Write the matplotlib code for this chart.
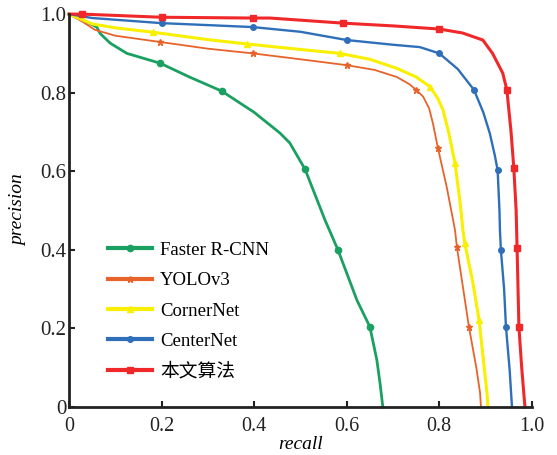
import matplotlib
matplotlib.use("Agg")
import matplotlib.pyplot as plt

# Data (recall, precision)
frcnn_r = [0, 0.03, 0.06, 0.067, 0.089, 0.125, 0.197, 0.26, 0.33, 0.4, 0.456, 0.477, 0.51, 0.553, 0.581, 0.622, 0.65, 0.665, 0.672, 0.678]
frcnn_p = [1.0, 0.985, 0.967, 0.951, 0.926, 0.90, 0.875, 0.84, 0.804, 0.75, 0.697, 0.672, 0.605, 0.476, 0.40, 0.272, 0.204, 0.12, 0.06, 0.0]
frcnn_mk = [0.197, 0.33, 0.51, 0.581, 0.65]

yolo_r = [0, 0.03, 0.056, 0.1, 0.197, 0.3, 0.397, 0.5, 0.6, 0.66, 0.708, 0.735, 0.75, 0.765, 0.778, 0.786, 0.797, 0.816, 0.834, 0.838, 0.864, 0.88, 0.888, 0.89]
yolo_p = [1.0, 0.98, 0.96, 0.945, 0.929, 0.912, 0.90, 0.885, 0.87, 0.858, 0.84, 0.822, 0.807, 0.79, 0.76, 0.723, 0.659, 0.56, 0.45, 0.407, 0.204, 0.10, 0.036, 0.0]
yolo_mk = [0.197, 0.397, 0.6, 0.75, 0.797, 0.838, 0.864]

corner_r = [0, 0.05, 0.1, 0.181, 0.3, 0.384, 0.5, 0.585, 0.65, 0.708, 0.75, 0.78, 0.797, 0.808, 0.82, 0.834, 0.845, 0.851, 0.855, 0.872, 0.886, 0.897, 0.903, 0.905]
corner_p = [1.0, 0.975, 0.965, 0.954, 0.935, 0.924, 0.91, 0.90, 0.885, 0.862, 0.84, 0.815, 0.785, 0.756, 0.70, 0.62, 0.52, 0.45, 0.417, 0.32, 0.221, 0.10, 0.036, 0.0]
corner_mk = [0.181, 0.384, 0.585, 0.78, 0.834, 0.855, 0.886]

center_r = [0, 0.05, 0.2, 0.3, 0.397, 0.5, 0.6, 0.7, 0.758, 0.8, 0.84, 0.875, 0.895, 0.909, 0.92, 0.926, 0.93, 0.931, 0.933, 0.94, 0.944, 0.952, 0.957]
center_p = [1.0, 0.99, 0.977, 0.972, 0.967, 0.955, 0.934, 0.922, 0.916, 0.90, 0.86, 0.807, 0.75, 0.697, 0.64, 0.603, 0.50, 0.45, 0.40, 0.30, 0.204, 0.094, 0.0]
center_mk = [0.2, 0.397, 0.6, 0.8, 0.875, 0.926, 0.933, 0.944]

ours_r = [0, 0.028, 0.2, 0.397, 0.434, 0.592, 0.7, 0.8, 0.85, 0.894, 0.915, 0.937, 0.946, 0.955, 0.961, 0.966, 0.968, 0.972, 0.978, 0.985]
ours_p = [1.0, 1.0, 0.992, 0.99, 0.99, 0.977, 0.97, 0.962, 0.952, 0.934, 0.90, 0.85, 0.807, 0.70, 0.608, 0.50, 0.405, 0.204, 0.10, 0.0]
ours_mk = [0.028, 0.2, 0.397, 0.592, 0.8, 0.946, 0.961, 0.968, 0.972]

labels = ["Faster R-CNN", "YOLOv3", "CornerNet", "CenterNet", "本文算法"]
xticks = [0, 0.2, 0.4, 0.6, 0.8, 1.0]
xticklabels = ["0", "0.2", "0.4", "0.6", "0.8", "1.0"]
yticks = [0, 0.2, 0.4, 0.6, 0.8, 1.0]
yticklabels = ["0", "0.2", "0.4", "0.6", "0.8", "1.0"]

plt.rcParams['font.family'] = ['Liberation Serif', 'Noto Sans CJK SC', 'DejaVu Sans']

fig = plt.figure(figsize=(5.57, 4.55), dpi=100)
ax = fig.add_axes([0.1239, 0.1055, 0.831, 0.8635])

series = [
    (frcnn_r, frcnn_p, frcnn_mk, "#1aa060", "o", 4.5, 2.0),
    (yolo_r, yolo_p, yolo_mk, "#e8632a", "*", 5, 1.3),
    (corner_r, corner_p, corner_mk, "#f8f000", "^", 4, 2.2),
    (center_r, center_p, center_mk, "#2f6fba", "o", 4, 1.7),
    (ours_r, ours_p, ours_mk, "#f0282a", "s", 5, 2.2),
]
for (r, p, mk_at, c, mk, ms, lw), lab in zip(series, labels):
    idx = [r.index(v) for v in mk_at]
    ax.plot(r, p, color=c, marker=mk, markersize=ms, markevery=idx, lw=lw, label=lab,
            clip_on=False, solid_joinstyle='round')

ax.set_xlim(0, 1.0)
ax.set_ylim(0, 1.0)
ax.set_xticks(xticks)
ax.set_xticklabels(xticklabels)
ax.set_yticks(yticks)
ax.set_yticklabels(yticklabels)
ax.tick_params(direction='in', length=4, width=1.5, labelsize=15, colors='#222222')
ax.tick_params(axis='x', pad=7, labelsize=14.5)
ax.tick_params(axis='y', pad=2)
for s in ['top', 'right']:
    ax.spines[s].set_visible(False)
for s in ['left', 'bottom']:
    ax.spines[s].set_linewidth(2)
    ax.spines[s].set_color('#222222')

ax.set_xlabel("recall", style='italic', fontsize=14, labelpad=0)
ax.set_ylabel("precision", style='italic', fontsize=14, labelpad=9)

leg = ax.legend(loc='lower left', bbox_to_anchor=(0.048, 0.024), frameon=False, fontsize=13.5,
                handlelength=2.35, labelspacing=0.7, handletextpad=0.43)
for h in leg.get_lines():
    h.set_linewidth(3)

fig.savefig("out.png", dpi=100)
